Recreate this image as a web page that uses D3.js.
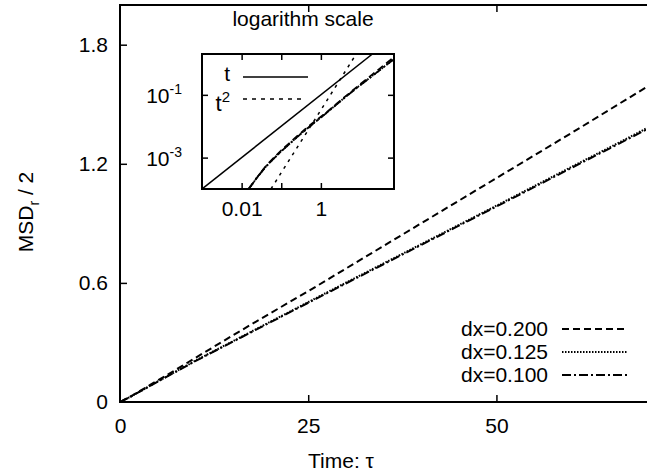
<!DOCTYPE html>
<html><head><meta charset="utf-8">
<script src="https://cdn.jsdelivr.net/npm/d3@7"></script>
<style>
html,body{margin:0;padding:0;background:#fff;}
svg text{font-family:"Liberation Sans",Arial,Helvetica,sans-serif;fill:#000;}
</style></head>
<body>
<svg id="c" width="647" height="473"></svg>
<script>
// ---- data ----
const time = [0, 0.015, 0.025, 0.04, 0.06, 0.1, 0.15, 0.25, 0.4, 0.6, 1, 1.5, 2.5, 4, 6, 10, 15, 20, 25, 30, 35, 40, 45, 50, 55, 60, 65, 70];
const msd200 = [0, 1.0e-4, 2.4e-4, 5.2e-4, 9.0e-4, 0.0017, 0.0027, 0.0048, 0.008, 0.0122, 0.020, 0.030, 0.052, 0.086, 0.13, 0.222, 0.336, 0.448, 0.558, 0.672, 0.786, 0.9, 1.014, 1.128, 1.242, 1.356, 1.472, 1.588];
const msd125 = [0, 1.0e-4, 2.4e-4, 5.0e-4, 8.5e-4, 0.0016, 0.0025, 0.0045, 0.0075, 0.0115, 0.019, 0.029, 0.05, 0.082, 0.124, 0.208, 0.306, 0.405, 0.503, 0.601, 0.698, 0.795, 0.892, 0.989, 1.087, 1.185, 1.282, 1.38];
const msd100 = [0, 1.0e-4, 2.4e-4, 5.0e-4, 8.4e-4, 0.0016, 0.0025, 0.0045, 0.0074, 0.0114, 0.0188, 0.0288, 0.0495, 0.081, 0.123, 0.206, 0.304, 0.402, 0.5, 0.597, 0.694, 0.791, 0.888, 0.985, 1.082, 1.18, 1.277, 1.374];
const seriesNames = ["dx=0.200", "dx=0.125", "dx=0.100"];
const xTicks = [0, 25, 50];
const yTicks = [0, 0.6, 1.2, 1.8];
// inset reference lines (t and t^2)
const linRefTime = [0.001, 20], linRefVal = [1e-4, 2];
const quadRefTime = [0.055, 7.8], quadRefVal = [1e-4, 2];
const insetXTicks = [0.01, 0.1, 1];
const insetXLabels = ["0.01", "", "1"];
const insetYTicks = [0.1, 0.001];
const insetYExp = ["-1", "-3"];

// ---- layout ----
const FS = "21px";
const svg = d3.select("#c");
const L = 120, R = 647, T = 5, B = 402;
const x = d3.scaleLinear().domain([0, 70]).range([L, R]);
const y = d3.scaleLinear().domain([0, 2]).range([B, T]);
const styles = [
  {dash: "7,4"},
  {dash: "1.5,1.5"},
  {dash: "9,3,2,3"}
];
const series = [msd200, msd125, msd100];

svg.append("clipPath").attr("id","mainclip").append("rect")
  .attr("x", L).attr("y", T).attr("width", R - L).attr("height", B - T);

// axes
const xAxis = d3.axisBottom(x).tickValues(xTicks).tickSize(-7).tickPadding(16).tickFormat(d3.format("d"));
const gx = svg.append("g").attr("transform", `translate(0,${B})`).call(xAxis);
const xTop = d3.axisTop(x).tickValues(xTicks.slice(1)).tickSize(-7).tickFormat("");
const gxt = svg.append("g").attr("transform", `translate(0,${T})`).call(xTop);
const yAxis = d3.axisLeft(y).tickValues(yTicks).tickSize(-7).tickPadding(12).tickFormat(d => d === 0 ? "0" : d3.format(".1f")(d));
const gy = svg.append("g").attr("transform", `translate(${L},0)`).call(yAxis);
[gx, gxt, gy].forEach(g => {
  g.select(".domain").remove();
  g.selectAll(".tick line").attr("stroke", "#000").attr("stroke-width", 1.5);
  g.selectAll("text").style("font-size", FS).attr("fill", "#000");
});
gy.selectAll(".tick").filter(d => d === 0).select("line").remove();
gx.selectAll(".tick").filter(d => d === 0).select("line").remove();

// frame (left, top, bottom)
svg.append("path").attr("d", `M${R},${T}H${L}V${B}H${R}`)
  .attr("fill", "none").attr("stroke", "#000").attr("stroke-width", 2);

// main curves
const lineMain = d3.line().x((d, i) => x(time[i])).y(d => y(d));
series.forEach((s, k) => {
  svg.append("path").datum(s).attr("d", lineMain)
    .attr("clip-path", "url(#mainclip)")
    .attr("fill", "none").attr("stroke", "#000").attr("stroke-width", 2)
    .attr("stroke-dasharray", styles[k].dash);
});

// axis titles
svg.append("text").attr("x", 341).attr("y", 468).attr("text-anchor", "middle")
  .style("font-size", FS).text("Time: \u03c4");
const yl = svg.append("text").attr("transform", "translate(33,212) rotate(-90)")
  .attr("text-anchor", "middle").style("font-size", FS);
yl.append("tspan").text("MSD");
yl.append("tspan").attr("dy", 6).style("font-size", "14px").text("r");
yl.append("tspan").attr("dy", -6).text(" / 2");

// main legend
const legY = [329, 352, 375];
seriesNames.forEach((n, k) => {
  svg.append("text").attr("x", 548).attr("y", legY[k] + 7).attr("text-anchor", "end")
    .style("font-size", FS).text(n);
  svg.append("line").attr("x1", 562).attr("x2", 627).attr("y1", legY[k]).attr("y2", legY[k])
    .attr("stroke", "#000").attr("stroke-width", 2).attr("stroke-dasharray", styles[k].dash);
});

// ---- inset ----
const IL = 202, IR = 394, IT = 54, IB = 189;
const ix = d3.scaleLog().domain([0.001, 70]).range([IL, IR]);
const iy = d3.scaleLog().domain([1e-4, 2]).range([IB, IT]);
svg.append("clipPath").attr("id","inclip").append("rect")
  .attr("x", IL).attr("y", IT).attr("width", IR - IL).attr("height", IB - IT);
svg.append("rect").attr("x", IL).attr("y", IT).attr("width", IR - IL).attr("height", IB - IT)
  .attr("fill", "#fff").attr("stroke", "#000").attr("stroke-width", 2);

svg.append("text").attr("x", 303).attr("y", 26).attr("text-anchor", "middle")
  .style("font-size", FS).text("logarithm scale");

const ixB = d3.axisBottom(ix).tickValues(insetXTicks).tickSize(-6).tickPadding(12).tickFormat((d, i) => insetXLabels[i]);
const gix = svg.append("g").attr("transform", `translate(0,${IB})`).call(ixB);
const ixT = d3.axisTop(ix).tickValues(insetXTicks).tickSize(-6).tickFormat("");
const gixt = svg.append("g").attr("transform", `translate(0,${IT})`).call(ixT);
const iyL = d3.axisLeft(iy).tickValues(insetYTicks).tickSize(-6).tickFormat("");
const giy = svg.append("g").attr("transform", `translate(${IL},0)`).call(iyL);
const iyR = d3.axisRight(iy).tickValues(insetYTicks).tickSize(-6).tickFormat("");
const giyr = svg.append("g").attr("transform", `translate(${IR},0)`).call(iyR);
[gix, gixt, giy, giyr].forEach(g => {
  g.select(".domain").remove();
  g.selectAll(".tick line").attr("stroke", "#000").attr("stroke-width", 1.5);
  g.selectAll("text").style("font-size", FS).attr("fill", "#000");
});
insetYTicks.forEach((v, i) => {
  const t = svg.append("text").attr("x", 182).attr("y", iy(v) + 8).attr("text-anchor", "end")
    .style("font-size", FS);
  t.append("tspan").text("10");
  t.append("tspan").attr("dy", -9).style("font-size", "14px").text(insetYExp[i]);
});

const gIn = svg.append("g").attr("clip-path", "url(#inclip)");
const lineIn = d3.line().defined((d, i) => time[i] > 0).x((d, i) => ix(time[i])).y(d => iy(Math.max(d, 1e-5)));
series.forEach((s, k) => {
  gIn.append("path").datum(s).attr("d", lineIn)
    .attr("fill", "none").attr("stroke", "#000").attr("stroke-width", 1.8)
    .attr("stroke-dasharray", styles[k].dash);
});
const lineRef = (tt) => d3.line().x((d, i) => ix(tt[i])).y(d => iy(d));
gIn.append("path").datum(linRefVal).attr("d", lineRef(linRefTime))
  .attr("fill", "none").attr("stroke", "#000").attr("stroke-width", 1.5);
gIn.append("path").datum(quadRefVal).attr("d", lineRef(quadRefTime))
  .attr("fill", "none").attr("stroke", "#000").attr("stroke-width", 1.5).attr("stroke-dasharray", "3,5");

// inset legend
const il = svg.append("g");
il.append("text").attr("x", 230).attr("y", 81).attr("text-anchor", "end").style("font-size", "21px").text("t");
const t2 = il.append("text").attr("x", 230).attr("y", 111).attr("text-anchor", "end").style("font-size", "22px");
t2.append("tspan").text("t");
t2.append("tspan").attr("dy", -9).style("font-size", "15px").text("2");
il.append("line").attr("x1", 243).attr("x2", 308).attr("y1", 77).attr("y2", 77)
  .attr("stroke", "#000").attr("stroke-width", 1.5);
il.append("line").attr("x1", 243).attr("x2", 305).attr("y1", 99).attr("y2", 99)
  .attr("stroke", "#000").attr("stroke-width", 1.5).attr("stroke-dasharray", "4,5");
</script>
</body></html>
